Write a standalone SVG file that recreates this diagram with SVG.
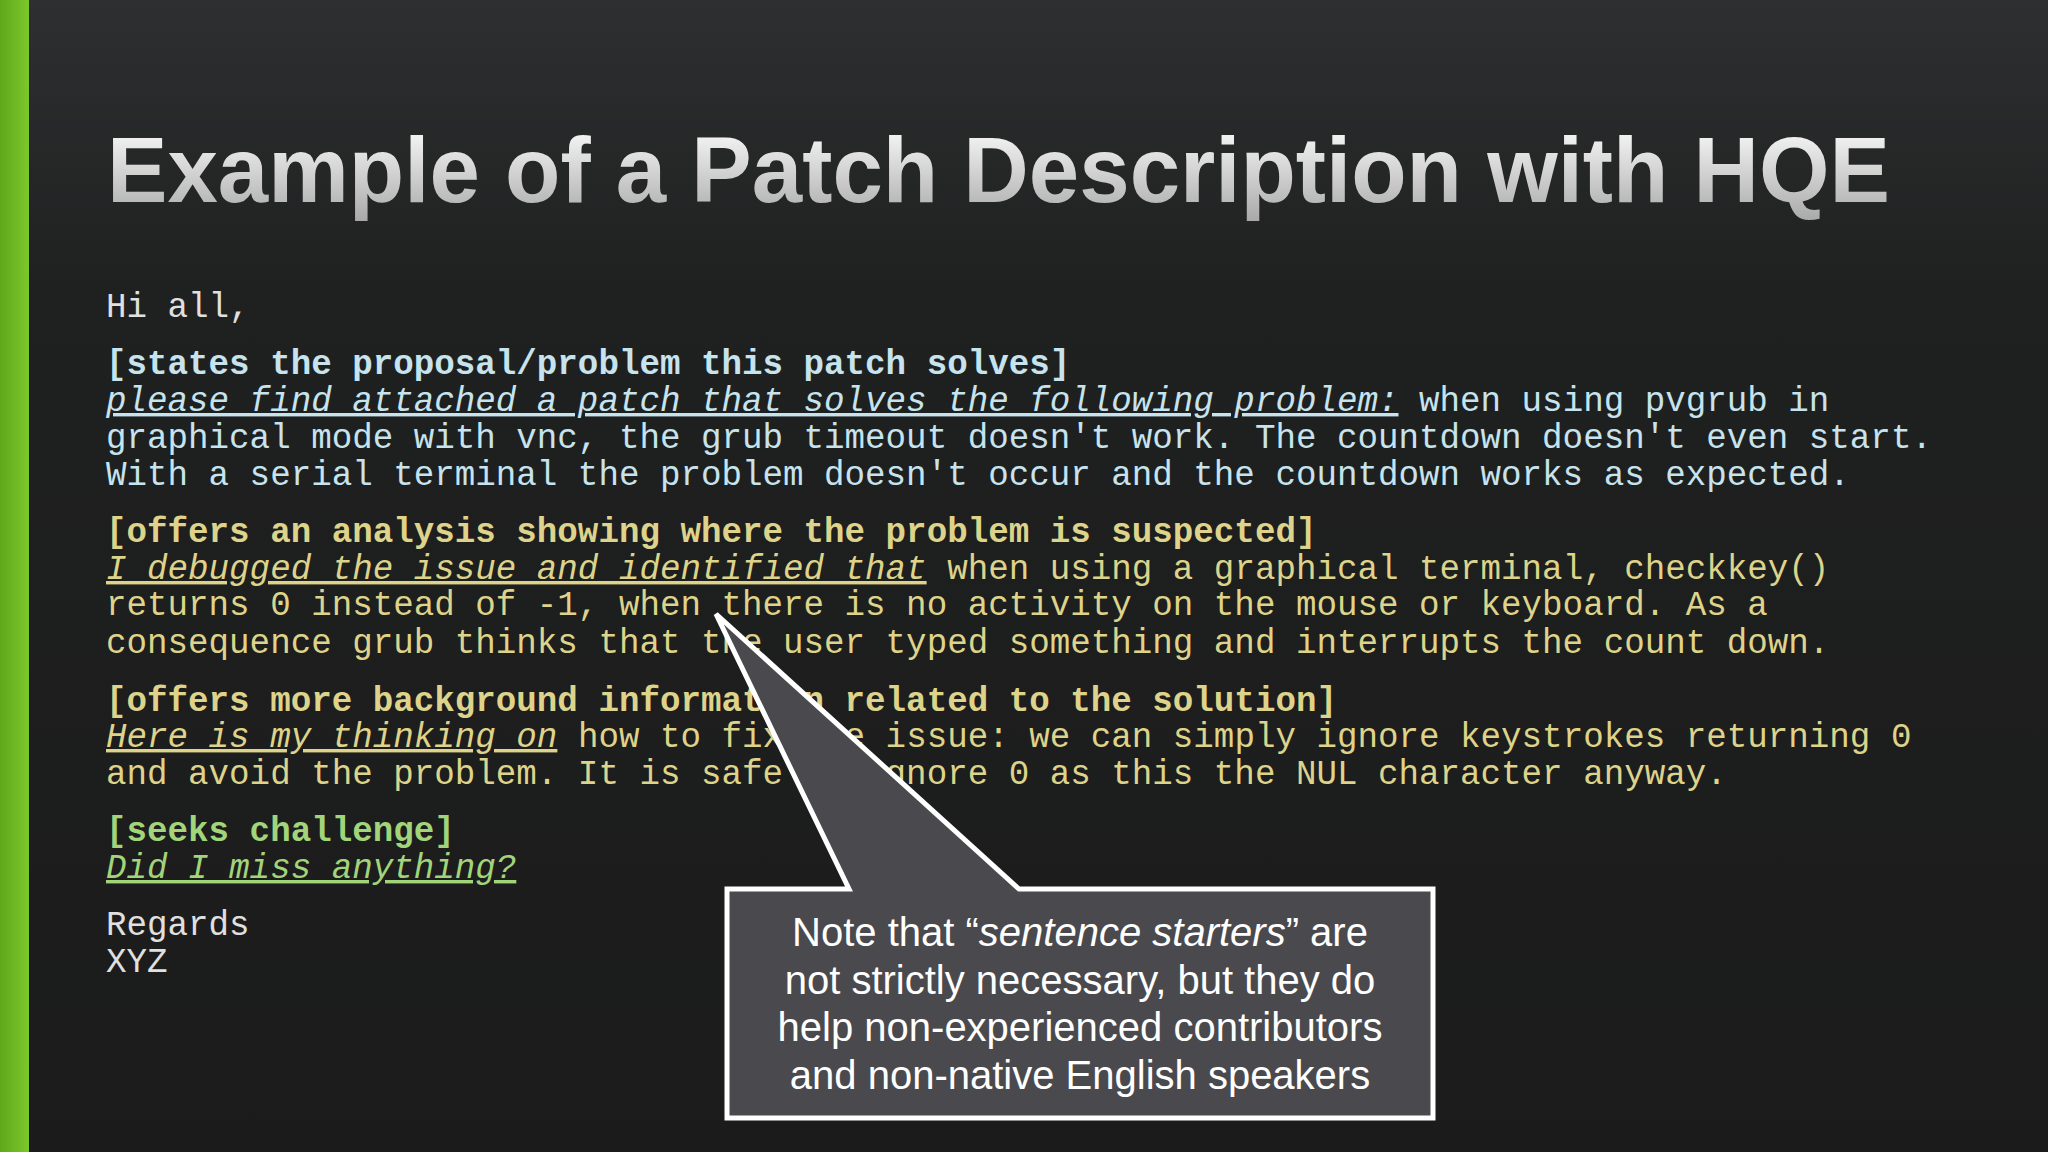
<svg xmlns="http://www.w3.org/2000/svg" width="2048" height="1152" viewBox="0 0 2048 1152">
<defs>
<linearGradient id="bg" x1="0" y1="0" x2="0" y2="1"><stop offset="0" stop-color="#2e2f30"/><stop offset="0.25" stop-color="#1f2020"/><stop offset="1" stop-color="#1b1b1b"/></linearGradient>
<linearGradient id="tg" x1="0" y1="0" x2="0" y2="1"><stop offset="0" stop-color="#ffffff"/><stop offset="1" stop-color="#a9a9a9"/></linearGradient>
<linearGradient id="gb" x1="0" y1="0" x2="1" y2="0"><stop offset="0" stop-color="#5ea81a"/><stop offset="1" stop-color="#7cc82c"/></linearGradient>
</defs>
<style>
.m{font-family:"Liberation Mono","DejaVu Sans Mono",monospace;font-size:34.2px}
.b{font-weight:bold}
.u{font-style:italic;text-decoration:underline}
.w{fill:#e0e0e0}.c{fill:#c6e3ee}.y{fill:#ddd38a}.g{fill:#a2d47a}
.n{font-family:"Liberation Sans",Arial,sans-serif;font-size:40px;fill:#ffffff;text-anchor:middle}
</style>
<rect width="2048" height="1152" fill="url(#bg)"/>
<rect x="0" y="0" width="29" height="1152" fill="url(#gb)"/>
<text x="107" y="202" font-family="Liberation Sans,Arial,sans-serif" font-weight="bold" font-size="92" fill="url(#tg)" textLength="1783" lengthAdjust="spacingAndGlyphs">Example of a Patch Description with HQE</text>
<g id="body">
<text class="m w" x="106" y="317">Hi all,</text>
<text class="m c b" x="106" y="374">[states the proposal/problem this patch solves]</text>
<text class="m c" x="106" y="411" xml:space="preserve"><tspan class="u">please find attached a patch that solves the following problem:</tspan> when using pvgrub in</text>
<text class="m c" x="106" y="448">graphical mode with vnc, the grub timeout doesn't work. The countdown doesn't even start.</text>
<text class="m c" x="106" y="485">With a serial terminal the problem doesn't occur and the countdown works as expected.</text>
<text class="m y b" x="106" y="542">[offers an analysis showing where the problem is suspected]</text>
<text class="m y" x="106" y="579" xml:space="preserve"><tspan class="u">I debugged the issue and identified that</tspan> when using a graphical terminal, checkkey()</text>
<text class="m y" x="106" y="615">returns 0 instead of -1, when there is no activity on the mouse or keyboard. As a</text>
<text class="m y" x="106" y="653">consequence grub thinks that the user typed something and interrupts the count down.</text>
<text class="m y b" x="106" y="711">[offers more background information related to the solution]</text>
<text class="m y" x="106" y="747" xml:space="preserve"><tspan class="u">Here is my thinking on</tspan> how to fix the issue: we can simply ignore keystrokes returning 0</text>
<text class="m y" x="106" y="784">and avoid the problem. It is safe to ignore 0 as this the NUL character anyway.</text>
<text class="m g b" x="106" y="841">[seeks challenge]</text>
<text class="m g u" x="106" y="878">Did I miss anything?</text>
<text class="m w" x="106" y="935">Regards</text>
<text class="m w" x="106" y="972">XYZ</text>
</g>
<g id="callout">
<path d="M727,889 L849,889 L716,614 L1019,889 L1433,889 L1433,1118 L727,1118 Z" fill="#4a4a4e" stroke="#ffffff" stroke-width="5" stroke-linejoin="miter"/>
<text class="n" x="1080" y="946">Note that “<tspan font-style="italic">sentence starters</tspan>” are</text>
<text class="n" x="1080" y="994">not strictly necessary, but they do</text>
<text class="n" x="1080" y="1041">help non-experienced contributors</text>
<text class="n" x="1080" y="1089">and non-native English speakers</text>
</g>
</svg>
